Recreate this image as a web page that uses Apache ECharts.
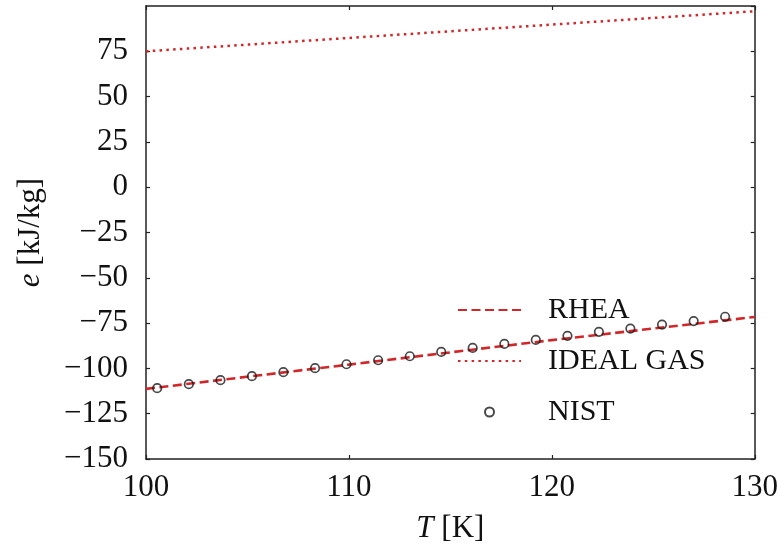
<!DOCTYPE html>
<html>
<head>
<meta charset="utf-8">
<script src="https://cdn.jsdelivr.net/npm/echarts@6/dist/echarts.min.js"></script>
<style>
  html, body { margin: 0; padding: 0; background: #fff; }
  #chart { width: 781px; height: 551px; }
</style>
</head>
<body>
<div id="chart"></div>
<script>
// NIST reference points
const nistT = [100.55, 102.11, 103.67, 105.22, 106.77, 108.33, 109.88, 111.44, 113.0, 114.55,
               116.1, 117.66, 119.21, 120.77, 122.32, 123.87, 125.43, 126.99, 128.54];
const nistE = [-110.9, -108.7, -106.5, -104.3, -102.1, -99.9, -97.7, -95.5, -93.3, -90.9,
               -88.7, -86.5, -84.3, -82.0, -79.8, -78.0, -75.8, -73.9, -71.5];

// RHEA model curve
const rheaT = [100, 110, 120, 130];
const rheaE = [-111.3, -97.9, -84.4, -71.6];

// ideal gas curve
const idealT = [100, 130];
const idealE = [75.0, 97.1];

const FONT = 'Liberation Serif';
const RED = '#d0272a';

const pairs = (xs, ys) => xs.map((x, i) => [x, ys[i]]);
const minus = v => String(v).replace('-', '\u2212');

const chart = echarts.init(document.getElementById('chart'));

const axisLine = { onZero: false, lineStyle: { color: '#222', width: 1.5 } };
const tickIn = { inside: true, length: 4, lineStyle: { color: '#222', width: 1.2 } };
const nameStyle = {
    fontFamily: FONT, fontSize: 31, color: '#111',
    rich: { i: { fontFamily: FONT, fontSize: 31, fontStyle: 'italic', color: '#111' } }
};
const noSymbol = { opacity: 0, borderWidth: 0 };

chart.setOption({
    backgroundColor: '#fff',
    animation: false,
    grid: { left: 146, right: 24, top: 6, bottom: 92 },
    legend: {
        left: 452,
        top: 290,
        orient: 'vertical',
        itemWidth: 63,
        itemHeight: 9,
        itemGap: 21,
        textStyle: { fontFamily: FONT, fontSize: 30, color: '#111', padding: [0, 0, 0, 22] },
        data: [
            { name: 'RHEA', itemStyle: noSymbol },
            { name: 'IDEAL GAS', itemStyle: noSymbol },
            { name: 'NIST' }
        ]
    },
    xAxis: [{
        type: 'value',
        min: 100, max: 130, interval: 10,
        axisLine: axisLine,
        axisTick: tickIn,
        splitLine: { show: false },
        axisLabel: { fontFamily: FONT, fontSize: 31, color: '#111', margin: 13 },
        name: '{i|T} [K]',
        nameLocation: 'middle',
        nameGap: 54,
        nameTextStyle: nameStyle
    }, {
        type: 'value', position: 'top',
        min: 100, max: 130, interval: 10,
        axisLine: axisLine, axisTick: tickIn,
        axisLabel: { show: false }, splitLine: { show: false }
    }],
    yAxis: [{
        type: 'value',
        min: -150, max: 100, interval: 25,
        axisLine: axisLine,
        axisTick: tickIn,
        splitLine: { show: false },
        axisLabel: {
            fontFamily: FONT, fontSize: 31, color: '#111', margin: 18,
            showMaxLabel: false,
            formatter: minus
        },
        name: '{i|e} [kJ/kg]',
        nameLocation: 'middle',
        nameGap: 100,
        nameTextStyle: nameStyle
    }, {
        type: 'value', position: 'right',
        min: -150, max: 100, interval: 25,
        axisLine: axisLine, axisTick: tickIn,
        axisLabel: { show: false }, splitLine: { show: false }
    }],
    series: [{
        name: 'RHEA',
        type: 'line',
        data: pairs(rheaT, rheaE),
        symbol: 'none',
        lineStyle: { color: RED, width: 2.6, type: [9, 4.5] },
        itemStyle: { color: RED },
        z: 2
    }, {
        name: 'IDEAL GAS',
        type: 'line',
        data: pairs(idealT, idealE),
        symbol: 'none',
        lineStyle: { color: RED, width: 2.5, type: [2.5, 4.3] },
        itemStyle: { color: RED },
        z: 2
    }, {
        name: 'NIST',
        type: 'scatter',
        data: pairs(nistT, nistE),
        symbol: 'circle',
        symbolSize: 8.5,
        itemStyle: { color: 'rgba(255,255,255,0)', borderColor: '#1a1a1a', borderWidth: 1.7 },
        z: 3
    }]
});
</script>
</body>
</html>
